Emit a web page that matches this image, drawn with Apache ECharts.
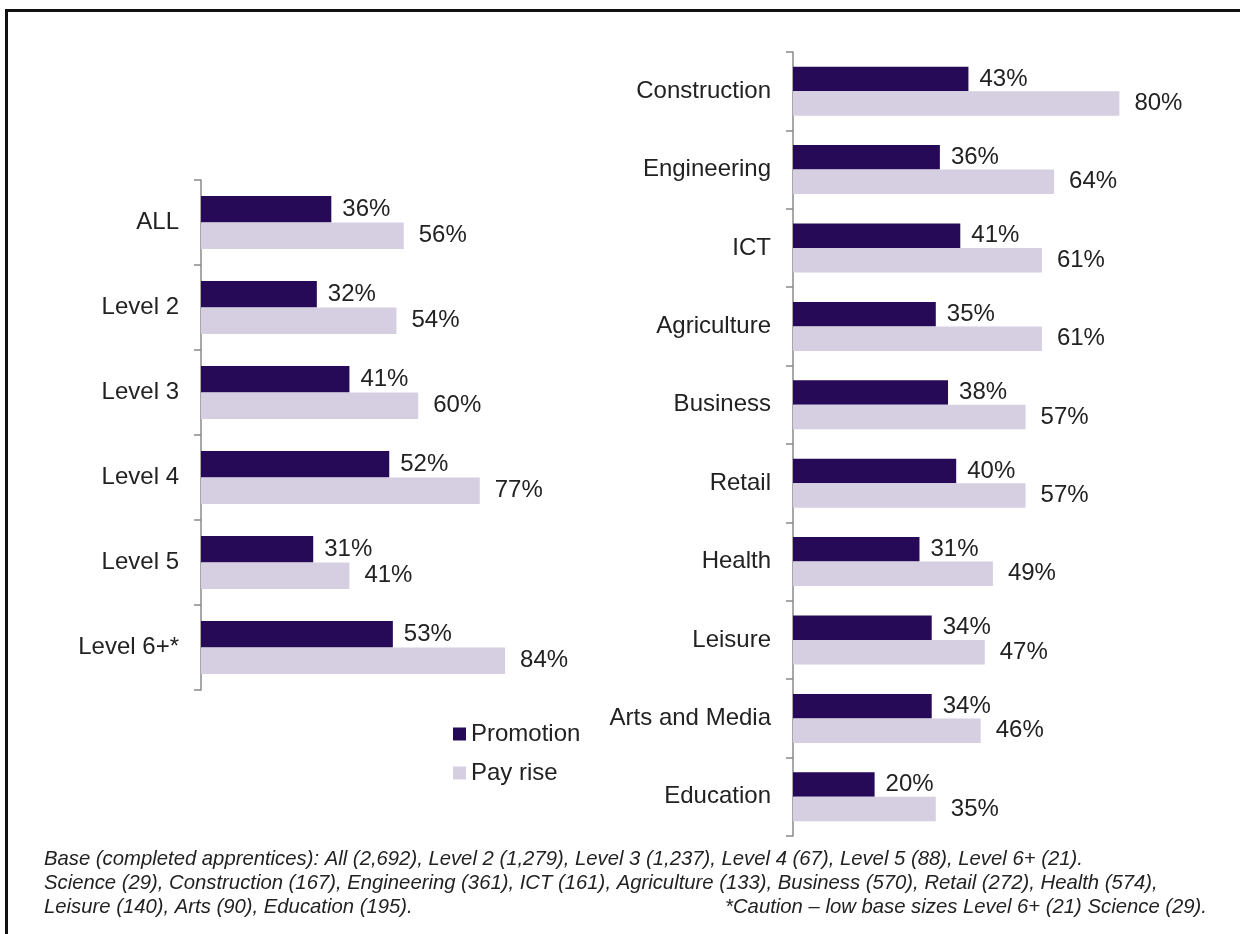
<!DOCTYPE html>
<html>
<head>
<meta charset="utf-8">
<title>Promotion and pay rise after apprenticeship</title>
<script src="https://cdn.jsdelivr.net/npm/echarts@6/dist/echarts.min.js"></script>
<style>
  html, body { margin: 0; padding: 0; background: #ffffff; }
  #chart { width: 1240px; height: 934px; }
</style>
</head>
<body>
<div id="chart"></div>
<script>
// Level breakdown (left panel)
const levelCategories = ['ALL', 'Level 2', 'Level 3', 'Level 4', 'Level 5', 'Level 6+*'];
const levelPromotion = [36, 32, 41, 52, 31, 53];
const levelPayRise = [56, 54, 60, 77, 41, 84];

// Sector breakdown (right panel)
const sectorCategories = ['Construction', 'Engineering', 'ICT', 'Agriculture', 'Business', 'Retail', 'Health', 'Leisure', 'Arts and Media', 'Education'];
const sectorPromotion = [43, 36, 41, 35, 38, 40, 31, 34, 34, 20];
const sectorPayRise = [80, 64, 61, 61, 57, 57, 49, 47, 46, 35];

const seriesNames = ['Promotion', 'Pay rise'];

const footnoteLines = [
  'Base (completed apprentices): All (2,692), Level 2 (1,279), Level 3 (1,237), Level 4 (67), Level 5 (88), Level 6+ (21).',
  'Science (29), Construction (167), Engineering (361), ICT (161), Agriculture (133), Business (570), Retail (272), Health (574),',
  'Leisure (140), Arts (90), Education (195).'
];
const cautionNote = '*Caution \u2013 low base sizes Level 6+ (21) Science (29).';

const COLOR_PROMO = '#270a57';
const COLOR_PAY = '#d6cfe1';
const TEXT = '#222222';
const FONT = 'Liberation Sans, Arial, sans-serif';
const LABEL_SIZE = 24;
const NOTE_FONT = 'italic 20.3px ' + FONT;

function catAxis(idx, cats) {
  return {
    type: 'category',
    gridIndex: idx,
    data: cats,
    inverse: true,
    axisLine: { show: true, lineStyle: { color: '#8a8a8a', width: 1.5 } },
    axisTick: { show: true, length: 7, inside: false, lineStyle: { color: '#8a8a8a', width: 1.5 } },
    axisLabel: { color: TEXT, fontSize: LABEL_SIZE, fontFamily: FONT, margin: 22 },
    splitLine: { show: false }
  };
}

function valAxis(idx) {
  return {
    type: 'value',
    gridIndex: idx,
    min: 0,
    max: 100,
    show: false,
    splitLine: { show: false }
  };
}

function barSeries(name, idx, values, color, width, dist) {
  return {
    name: name,
    type: 'bar',
    xAxisIndex: idx,
    yAxisIndex: idx,
    data: values,
    barWidth: width,
    barGap: '0%',
    itemStyle: { color: color },
    label: {
      show: true,
      position: 'right',
      distance: dist,
      color: TEXT,
      fontSize: LABEL_SIZE,
      fontFamily: FONT,
      formatter: '{c}%'
    },
    emphasis: { disabled: true },
    animation: false
  };
}

const chart = echarts.init(document.getElementById('chart'), null, { renderer: 'canvas' });

chart.setOption({
  backgroundColor: '#ffffff',
  animation: false,
  grid: [
    { left: 201, top: 180, width: 362, height: 510, containLabel: false },
    { left: 793, top: 52, width: 408, height: 784, containLabel: false }
  ],
  xAxis: [valAxis(0), valAxis(1)],
  yAxis: [catAxis(0, levelCategories), catAxis(1, sectorCategories)],
  legend: {
    data: seriesNames,
    orient: 'vertical',
    left: 453,
    top: 722,
    padding: 0,
    itemWidth: 13,
    itemHeight: 13,
    itemGap: 15,
    itemTextGap: 5,
    icon: 'rect',
    textStyle: { color: TEXT, fontSize: LABEL_SIZE, fontFamily: FONT },
    selectedMode: false
  },
  series: [
    barSeries(seriesNames[0], 0, levelPromotion, COLOR_PROMO, 26.5, 11),
    barSeries(seriesNames[1], 0, levelPayRise, COLOR_PAY, 26.5, 15),
    barSeries(seriesNames[0], 1, sectorPromotion, COLOR_PROMO, 24.5, 11),
    barSeries(seriesNames[1], 1, sectorPayRise, COLOR_PAY, 24.5, 15)
  ],
  graphic: [
    {
      type: 'rect',
      silent: true,
      shape: { x: 6.5, y: 10.5, width: 1400, height: 1000 },
      style: { fill: 'none', stroke: '#111111', lineWidth: 3 }
    },
    {
      type: 'text',
      left: 44,
      top: 847,
      silent: true,
      style: {
        text: footnoteLines.join('\n'),
        font: NOTE_FONT,
        fill: TEXT,
        lineHeight: 24
      }
    },
    {
      type: 'text',
      right: 33,
      top: 895,
      silent: true,
      style: {
        text: cautionNote,
        font: NOTE_FONT,
        fill: TEXT,
        lineHeight: 24,
        align: 'right'
      }
    }
  ]
});
</script>
</body>
</html>
